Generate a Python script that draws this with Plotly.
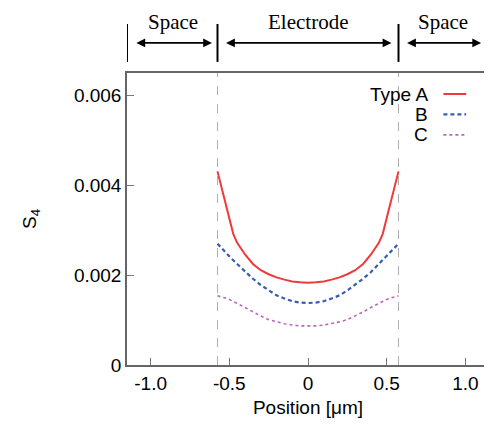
import plotly.graph_objects as go

position = [-0.575, -0.55, -0.525, -0.5, -0.475, -0.45, -0.4, -0.35, -0.3, -0.25, -0.2, -0.15, -0.1, -0.05, 0.0,
            0.05, 0.1, 0.15, 0.2, 0.25, 0.3, 0.35, 0.4, 0.45, 0.475, 0.5, 0.525, 0.55, 0.575]
type_a = [0.00431, 0.00397, 0.00362, 0.00327, 0.00292, 0.00272, 0.00246, 0.00225, 0.00211, 0.00202, 0.00195, 0.00190, 0.00186, 0.00184, 0.00183,
          0.00184, 0.00186, 0.00190, 0.00195, 0.00202, 0.00211, 0.00225, 0.00246, 0.00272, 0.00292, 0.00327, 0.00362, 0.00397, 0.00431]
type_b = [0.00270, 0.00260, 0.00251, 0.00242, 0.00233, 0.00225, 0.00207, 0.00192, 0.00178, 0.00166, 0.00155, 0.00148, 0.00142, 0.00139, 0.00138,
          0.00139, 0.00142, 0.00148, 0.00155, 0.00166, 0.00178, 0.00192, 0.00207, 0.00225, 0.00233, 0.00242, 0.00251, 0.00260, 0.00270]
type_c = [0.00154, 0.00152, 0.00149, 0.00146, 0.00142, 0.00137, 0.00128, 0.00118, 0.00109, 0.00101, 0.00096, 0.00092, 0.00089, 0.00087, 0.00087,
          0.00087, 0.00089, 0.00092, 0.00096, 0.00101, 0.00109, 0.00118, 0.00128, 0.00137, 0.00142, 0.00146, 0.00149, 0.00152, 0.00154]

series_names = ["Type A", "B", "C"]
x_ticks = [-1.0, -0.5, 0, 0.5, 1.0]
x_tick_labels = ["-1.0", "-0.5", "0", "0.5", "1.0"]
y_ticks = [0, 0.002, 0.004, 0.006]
y_tick_labels = ["0", "0.002", "0.004", "0.006"]

electrode_edges = [-0.575, 0.575]
region_bounds = [-1.15, -0.575, 0.575, 1.15]
region_labels = ["Space", "Electrode", "Space"]
region_arrows = [(-1.10, -0.61), (-0.53, 0.53), (0.62, 1.10)]

colors = ["#f03a3a", "#3a5cb0", "#b868b8"]
dashes = ["solid", "4px,3px", "dot"]
widths = [2, 2.2, 1.6]

FONT = "Liberation Sans, Arial, sans-serif"
SERIF = "Liberation Serif, Times New Roman, serif"

fig = go.Figure()
for name, ys, c, d, w in zip(series_names, [type_a, type_b, type_c], colors, dashes, widths):
    fig.add_trace(go.Scatter(x=position, y=ys, mode="lines", name=name,
                             line=dict(color=c, dash=d, width=w), showlegend=False))

shapes = []
for e in electrode_edges:
    shapes.append(dict(type="line", xref="x", yref="paper", x0=e, x1=e, y0=0, y1=1,
                       line=dict(color="#b0b0b0", width=1, dash="dash")))
for b in region_bounds:
    shapes.append(dict(type="line", xref="x", yref="paper", x0=b, x1=b, y0=1.038, y1=1.168,
                       line=dict(color="black", width=2)))

annotations = []
for (a0, a1), lab in zip(region_arrows, region_labels):
    annotations.append(dict(x=a1, y=1.103, xref="x", yref="paper", ax=a0, ay=0, axref="x", ayref="pixel",
                            showarrow=True, arrowhead=2, arrowside="end+start", arrowwidth=1.6,
                            arrowsize=1.1, arrowcolor="black", text=""))
    annotations.append(dict(x=(a0 + a1) / 2, y=1.176, xref="x", yref="paper", text=lab, showarrow=False,
                            font=dict(family=SERIF, size=21, color="black"), yanchor="middle"))

# legend (text left of sample line)
leg_y = [0.928, 0.858, 0.788]
for name, c, d, w, ly in zip(series_names, colors, dashes, widths, leg_y):
    annotations.append(dict(x=0.838, y=ly, xref="paper", yref="paper", text=name, showarrow=False,
                            xanchor="right", yanchor="middle", font=dict(family=FONT, size=19, color="black")))
    shapes.append(dict(type="line", xref="paper", yref="paper", x0=0.874, x1=0.937, y0=ly, y1=ly,
                       line=dict(color=c, dash=d, width=w)))

# page body adds an 8px offset; size the figure so the plot lands where the reference has it
fig.update_layout(
    width=484, height=425,
    margin=dict(l=119, r=1, t=65, b=68),
    paper_bgcolor="white", plot_bgcolor="white",
    font=dict(family=FONT, size=19, color="black"),
    shapes=shapes, annotations=annotations,
)
fig.update_xaxes(range=[-1.15, 1.15], tickvals=x_ticks, ticktext=x_tick_labels,
                 ticks="inside", ticklen=7, tickcolor="#777", showgrid=False, zeroline=False,
                 showline=True, linecolor="#666", linewidth=1.5, mirror=True,
                 title=dict(text="Position [μm]", standoff=8, font=dict(size=19)))
fig.update_yaxes(range=[0, 0.0065], tickvals=y_ticks, ticktext=y_tick_labels,
                 ticks="inside", ticklen=7, tickcolor="#777", showgrid=False, zeroline=False,
                 showline=True, linecolor="#666", linewidth=1.5, mirror=True,
                 title=dict(text="S<sub>4</sub>", standoff=32, font=dict(size=19)))

fig.write_html("out.html")
